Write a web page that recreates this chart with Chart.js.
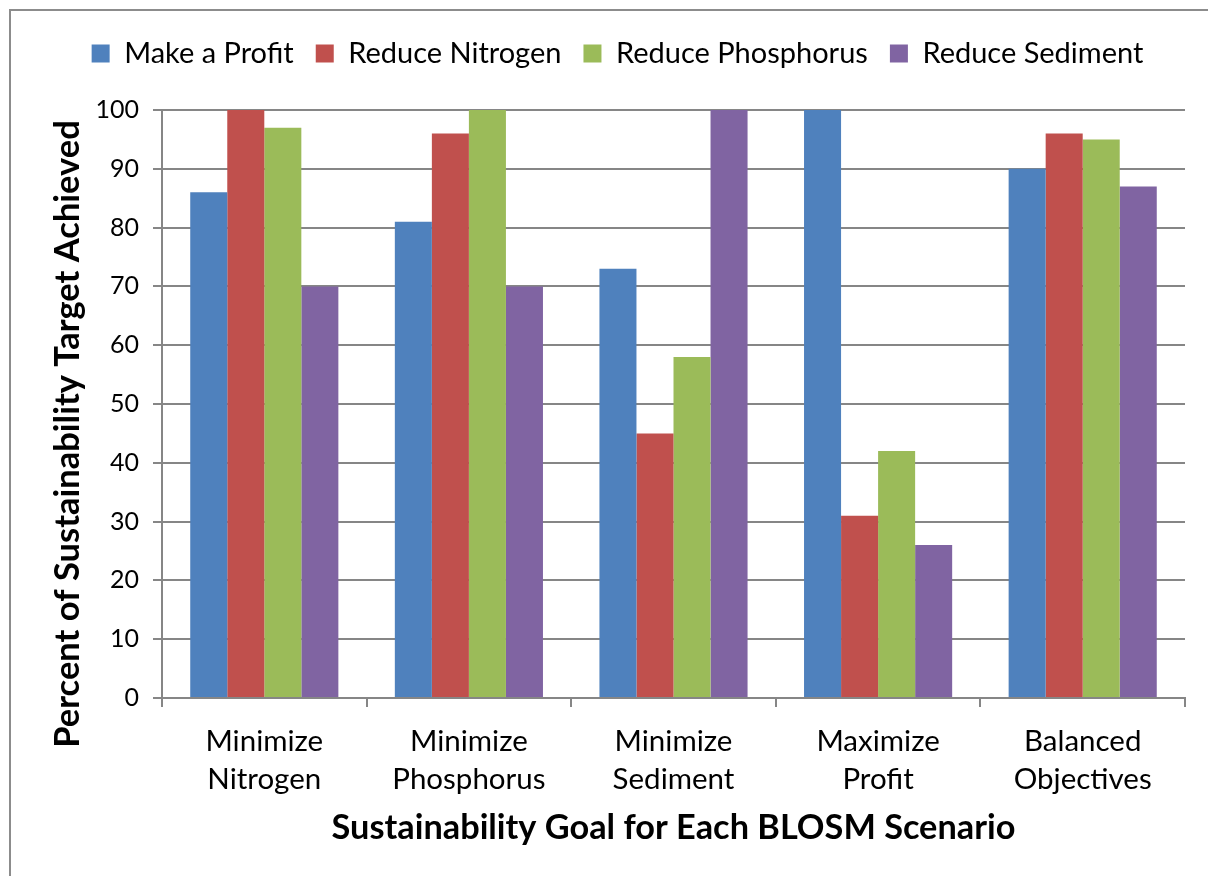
<!DOCTYPE html>
<html lang="en">
<head>
    <meta charset="UTF-8">
    <title>Sustainability Goal for Each BLOSM Scenario</title>
    <script src="https://cdn.jsdelivr.net/npm/chart.js"></script>
    <style>
        html, body {
            margin: 0;
            padding: 0;
            background: #ffffff;
        }
        body {
            position: relative;
            width: 1208px;
            height: 876px;
            overflow: hidden;
        }
        .frame {
            position: absolute;
            left: 9px;
            top: 9px;
            width: 1240px;
            height: 920px;
            border: 2px solid #8c8c8c;
            box-sizing: border-box;
        }
        .chart-container {
            position: absolute;
            left: 0;
            top: 0;
            width: 1208px;
            height: 876px;
        }
    </style>
</head>
<body>
    <div class="frame"></div>
    <div class="chart-container">
        <canvas id="blosmChart"></canvas>
    </div>

    <script>
        // Data
        const scenarios = [
            ["Minimize", "Nitrogen"],
            ["Minimize", "Phosphorus"],
            ["Minimize", "Sediment"],
            ["Maximize", "Profit"],
            ["Balanced", "Objectives"]
        ];
        const seriesNames = ["Make a Profit", "Reduce Nitrogen", "Reduce Phosphorus", "Reduce Sediment"];
        const makeProfit       = [86, 81, 73, 100, 90];
        const reduceNitrogen   = [100, 96, 45, 31, 96];
        const reducePhosphorus = [97, 100, 58, 42, 95];
        const reduceSediment   = [70, 70, 100, 26, 87];
        const yMin = 0, yMax = 100, yStep = 10;

        const xTitle = "Sustainability Goal for Each BLOSM Scenario";
        const yTitle = "Percent of Sustainability Target Achieved";

        const colors = ["#4f81bd", "#c0504d", "#9bbb59", "#8064a2"];
        const gridColor = "#868686";
        const fontFamily = "Lato, 'Open Sans', sans-serif";

        Chart.defaults.font.family = fontFamily;
        Chart.defaults.color = "#000000";

        // Fix the legend band height so the plot area sits where it should,
        // and nudge it right (the original legend is centred a bit right of the page)
        const legendPlace = {
            id: 'legendPlace',
            afterInit(chart) {
                const legend = chart.legend;
                const fit = legend.fit;
                legend.fit = function () {
                    fit.call(this);
                    this.height = 110 - 17;
                };
            },
            afterLayout(chart) {
                chart.legend.left += 50;
            }
        };

        // Rotated y-axis title, placed like the original (slightly below plot centre)
        const yAxisTitle = {
            id: 'yAxisTitle',
            afterDraw(chart) {
                const c = chart.ctx;
                c.save();
                c.translate(68, 434);
                c.rotate(-Math.PI / 2);
                c.font = "bold 34.5px " + fontFamily;
                c.fillStyle = "#000";
                c.textAlign = "center";
                c.textBaseline = "middle";
                c.fillText(yTitle, 0, 0);
                c.restore();
            }
        };

        const datasets = [makeProfit, reduceNitrogen, reducePhosphorus, reduceSediment].map((vals, i) => ({
            label: seriesNames[i],
            data: vals,
            backgroundColor: colors[i],
            borderWidth: 0,
            categoryPercentage: 0.724,
            barPercentage: 1.0
        }));

        const ctx = document.getElementById('blosmChart').getContext('2d');
        const blosmChart = new Chart(ctx, {
            type: 'bar',
            data: { labels: scenarios, datasets: datasets },
            options: {
                responsive: true,
                maintainAspectRatio: false,
                animation: false,
                layout: { padding: { left: 0, top: 17, right: 23, bottom: 0 } },
                plugins: {
                    legend: {
                        position: 'top',
                        labels: {
                            font: { size: 29 },
                            boxWidth: 18,
                            boxHeight: 18,
                            padding: 22,
                            color: "#000"
                        }
                    },
                    tooltip: { enabled: false }
                },
                scales: {
                    x: {
                        grid: {
                            display: true,
                            drawOnChartArea: false,
                            drawTicks: true,
                            tickLength: 9,
                            color: gridColor,
                            lineWidth: 2,
                            offset: true
                        },
                        border: { display: true, color: gridColor, width: 2 },
                        ticks: {
                            font: { size: 29.5, lineHeight: 1.29 },
                            color: "#000",
                            padding: 15,
                            maxRotation: 0
                        },
                        title: {
                            display: true,
                            text: xTitle,
                            font: { size: 34.3, weight: 'bold' },
                            color: "#000",
                            padding: { top: 0, bottom: 27 }
                        },
                        afterFit(scale) { scale.height = 876 - 698; }
                    },
                    y: {
                        min: yMin,
                        max: yMax,
                        ticks: {
                            stepSize: yStep,
                            font: { size: 25 },
                            color: "#000",
                            padding: 14
                        },
                        grid: {
                            color: gridColor,
                            lineWidth: 2,
                            tickLength: 9
                        },
                        border: { display: true, color: gridColor, width: 2 },
                        afterFit(scale) { scale.width = 162; }
                    }
                }
            },
            plugins: [legendPlace, yAxisTitle]
        });
    </script>
</body>
</html>
